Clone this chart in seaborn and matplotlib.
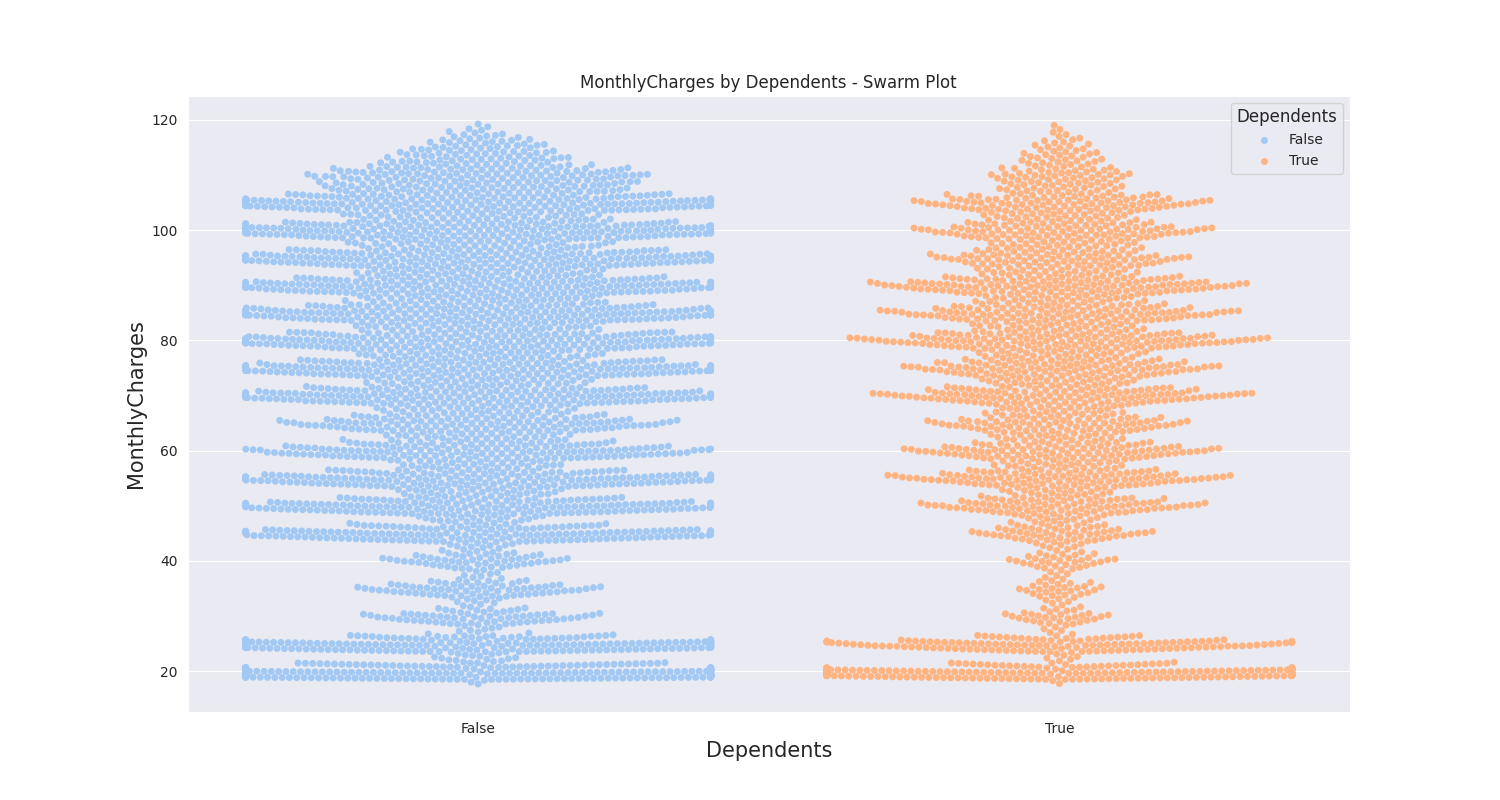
import numpy as np
import pandas as pd
import seaborn as sns
import matplotlib.pyplot as plt
import warnings
warnings.filterwarnings("ignore")

charge_levels = list(range(18, 120))
counts_false = [3,150,170,60,10,8,80,110,45,6,
                5,22,30,12,4,6,22,32,15,5,
                4,12,25,15,6,9,55,65,40,14,
                14,55,65,42,18,20,55,65,42,20,
                18,48,58,38,22,20,38,48,32,22,
                22,55,65,48,25,25,58,65,48,28,
                28,58,68,50,28,28,58,65,50,28,
                28,58,65,50,28,28,58,65,50,28,
                28,60,68,55,28,28,60,68,50,35,
                35,35,40,32,22,20,18,15,12,8,
                4,2]
counts_true = [2,95,110,35,4,4,45,65,25,3,
               3,9,14,6,3,4,8,11,6,3,
               3,8,14,8,4,6,14,24,14,9,
               10,24,36,24,13,13,28,44,28,15,
               15,28,40,24,15,15,24,32,20,15,
               15,32,48,32,17,19,28,40,28,19,
               19,36,52,36,19,19,32,44,28,19,
               19,36,48,32,19,17,24,32,20,17,
               17,28,36,24,17,17,28,36,24,14,
               14,14,17,12,9,9,8,6,5,3,
               2,1]
groups = ["False", "True"]

def spread(levels, counts):
    out = []
    for v, n in zip(levels, counts):
        out.append(v - 0.5 + (np.arange(n) + 0.5) / n)
    return np.concatenate(out)

vals = np.concatenate([spread(charge_levels, counts_false),
                       spread(charge_levels, counts_true)])
deps = ["False"] * sum(counts_false) + ["True"] * sum(counts_true)
df = pd.DataFrame({"Dependents": deps, "MonthlyCharges": vals})

sns.set_style("darkgrid")
fig, ax = plt.subplots(figsize=(15, 8), dpi=100)
sns.swarmplot(data=df, x="Dependents", y="MonthlyCharges", hue="Dependents",
              order=groups, hue_order=groups, palette="pastel", size=5, ax=ax, legend=True)
ax.set_title("MonthlyCharges by Dependents - Swarm Plot", fontsize=12)
ax.set_xlabel("Dependents", fontsize=15)
ax.set_ylabel("MonthlyCharges", fontsize=15)
ax.legend(title="Dependents", loc="upper right", title_fontsize=12)
fig.savefig("out.png")
